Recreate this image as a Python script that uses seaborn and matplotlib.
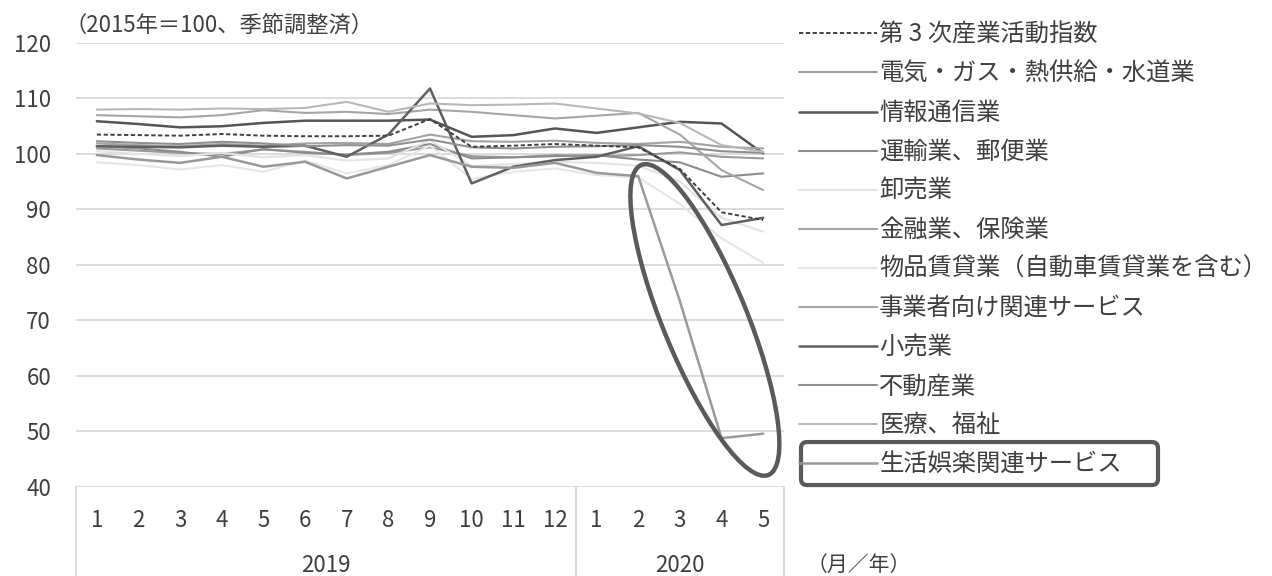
import numpy as np
import pandas as pd
import matplotlib
matplotlib.use("Agg")
import matplotlib.pyplot as plt
import seaborn as sns
from matplotlib.lines import Line2D
from matplotlib.patches import Ellipse, FancyBboxPatch
import matplotlib.transforms as mtransforms

# ---------------- data ----------------
months = ["1", "2", "3", "4", "5", "6", "7", "8", "9", "10", "11", "12",
          "1", "2", "3", "4", "5"]
years = ["2019", "2020"]
year_spans = [(0, 11), (12, 16)]

names = [
    "第 3 次産業活動指数",
    "電気・ガス・熱供給・水道業",
    "情報通信業",
    "運輸業、郵便業",
    "卸売業",
    "金融業、保険業",
    "物品賃貸業（自動車賃貸業を含む）",
    "事業者向け関連サービス",
    "小売業",
    "不動産業",
    "医療、福祉",
    "生活娯楽関連サービス",
]

ita = [103.5, 103.4, 103.3, 103.6, 103.3, 103.2, 103.2, 103.3, 106.3, 101.3, 101.5, 101.8,
       101.5, 101.2, 97.3, 89.5, 88.1]
utilities = [101.0, 100.6, 100.2, 100.0, 100.8, 100.4, 99.8, 100.2, 101.2, 99.6, 99.4, 99.8,
             99.6, 99.8, 100.3, 99.5, 99.2]
info_comm = [105.9, 105.4, 104.8, 105.0, 105.6, 106.0, 106.0, 106.0, 106.2, 103.1, 103.4, 104.6,
             103.8, 104.8, 105.8, 105.5, 100.1]
transport = [101.4, 101.0, 100.4, 99.5, 100.9, 100.2, 99.9, 100.4, 101.8, 99.2, 99.4, 99.6,
             99.8, 99.0, 98.5, 95.9, 96.5]
wholesale = [100.5, 100.0, 99.6, 100.2, 99.4, 99.8, 98.8, 99.2, 102.5, 97.8, 98.2, 98.6,
             98.4, 97.9, 95.0, 88.5, 86.0]
finance = [101.9, 101.6, 101.4, 101.8, 101.5, 101.9, 102.0, 101.8, 103.5, 102.3, 102.2, 102.4,
           102.0, 101.8, 102.2, 101.3, 101.0]
rental = [98.5, 98.0, 97.2, 98.0, 96.8, 98.8, 96.5, 98.0, 101.5, 95.5, 96.8, 97.4,
          96.2, 95.8, 91.0, 84.8, 80.4]
business = [107.0, 106.8, 106.6, 107.0, 107.9, 107.4, 107.6, 107.2, 108.0, 107.6, 107.0, 106.4,
            106.9, 107.4, 103.5, 97.1, 93.5]
retail = [101.4, 101.3, 101.2, 101.5, 101.3, 101.5, 99.5, 103.5, 111.8, 94.7, 97.7, 98.9,
          99.5, 101.4, 97.1, 87.2, 88.5]
real_estate = [102.3, 102.0, 101.8, 102.2, 101.9, 101.4, 101.6, 101.5, 102.6, 101.2, 101.0, 101.3,
               101.4, 101.6, 101.3, 100.5, 100.2]
medical = [108.0, 108.1, 108.0, 108.2, 108.1, 108.3, 109.4, 107.6, 109.1, 108.8, 108.9, 109.1,
           108.2, 107.3, 105.6, 101.6, 100.4]
leisure = [99.8, 99.0, 98.4, 99.5, 97.7, 98.6, 95.6, 97.7, 99.8, 97.7, 97.5, 98.4,
           96.6, 96.0, 73.5, 48.8, 49.6]

values = [ita, utilities, info_comm, transport, wholesale, finance, rental,
          business, retail, real_estate, medical, leisure]

# ---------------- styles ----------------
colors = ["#404040", "#9a9a9a", "#555555", "#8c8c8c", "#e3e3e3", "#a3a3a3",
          "#e6e6e6", "#a6a6a6", "#5f5f5f", "#909090", "#b8b8b8", "#999999"]
widths = [1.4, 1.5, 1.8, 1.5, 1.5, 1.5, 1.5, 1.5, 1.8, 1.5, 1.5, 1.8]
styles = ["--"] + ["-"] * 11
text_color = "#3f3f3f"
dash_pat = (2.2, 1.3)

sns.set_theme(style="white")
plt.rcParams["font.family"] = ["Noto Sans CJK JP", "DejaVu Sans"]

W, H = 1272, 576
fig = plt.figure(figsize=(W / 100, H / 100), dpi=100)
ax = fig.add_axes([76 / W, 89 / H, 708 / W, 444 / H])

idx = np.arange(len(months))
draw_order = list(range(1, 12)) + [0]
for i in draw_order:
    if styles[i] == "--":
        df = pd.DataFrame({"x": idx, "y": values[i], "s": "a"})
        sns.lineplot(data=df, x="x", y="y", style="s", ax=ax, legend=False,
                     color=colors[i], linewidth=widths[i], dashes=[dash_pat], zorder=5)
    else:
        sns.lineplot(x=idx, y=values[i], ax=ax, legend=False, zorder=3,
                     color=colors[i], linewidth=widths[i])

ax.set_xlim(-0.5, len(months) - 0.5)
ax.set_ylim(40, 120)
ax.set_yticks(np.arange(40, 121, 10))
ax.set_xticks(idx)
ax.set_xticklabels(months)
ax.set_xlabel("")
ax.set_ylabel("")
for s in ax.spines.values():
    s.set_visible(False)
ax.grid(axis="y", color="#d9d9d9", linewidth=1.3)
ax.grid(axis="x", visible=False)
ax.tick_params(axis="y", length=0, pad=18, labelsize=16, labelcolor=text_color)
ax.tick_params(axis="x", length=0, pad=16, labelsize=16, labelcolor=text_color)

# multi-level category separators
blend = mtransforms.blended_transform_factory(ax.transData, ax.transAxes)
for xs in [-0.5, 11.5, len(months) - 0.5]:
    ax.plot([xs, xs], [0, -0.21], transform=blend, color="#d9d9d9",
            linewidth=1.3, clip_on=False)
for yr, (a, b) in zip(years, year_spans):
    ax.text((a + b) / 2, -0.176, yr, transform=blend, ha="center", va="center",
            fontsize=16, color=text_color)
ax.text(len(months) - 0.5 + 0.55, -0.176, "（月／年）", transform=blend, ha="left",
        va="center", fontsize=15, color=text_color)

fig.text(64 / W, 1 - 25 / H, "（2015年＝100、季節調整済）", ha="left", va="center",
         fontsize=16, color=text_color)

# legend
handles = []
for i in range(len(names)):
    if styles[i] == "--":
        h = Line2D([0], [0], color=colors[i], linewidth=widths[i], linestyle="--",
                   dashes=dash_pat)
    else:
        h = Line2D([0], [0], color=colors[i], linewidth=widths[i], linestyle="-")
    handles.append(h)
leg = fig.legend(handles, names, loc="upper left", bbox_to_anchor=(799 / W, 1 - 22 / H),
                 frameon=False, fontsize=17.5, handlelength=3.2, handletextpad=0.1,
                 labelspacing=0.535, borderpad=0, borderaxespad=0)
for t in leg.get_texts():
    t.set_color(text_color)

fig.canvas.draw()
renderer = fig.canvas.get_renderer()

# highlight box around the last legend entry
tb = leg.get_texts()[-1].get_window_extent(renderer)
box = FancyBboxPatch((801, tb.y0 - 8), 1158 - 801, tb.height + 17,
                     boxstyle="round,pad=0,rounding_size=6",
                     transform=mtransforms.IdentityTransform(),
                     fill=False, edgecolor="#5a5a5a", linewidth=3)
fig.add_artist(box)

# ellipse annotation around the drop
cx, cy = ax.transData.transform((14.6, 70.1))
ell = Ellipse((cx, cy), width=335, height=84, angle=-67.7,
              transform=mtransforms.IdentityTransform(), fill=False,
              edgecolor="#5a5a5a", linewidth=3.2, zorder=10)
fig.add_artist(ell)

fig.savefig("out.png", dpi=100)
